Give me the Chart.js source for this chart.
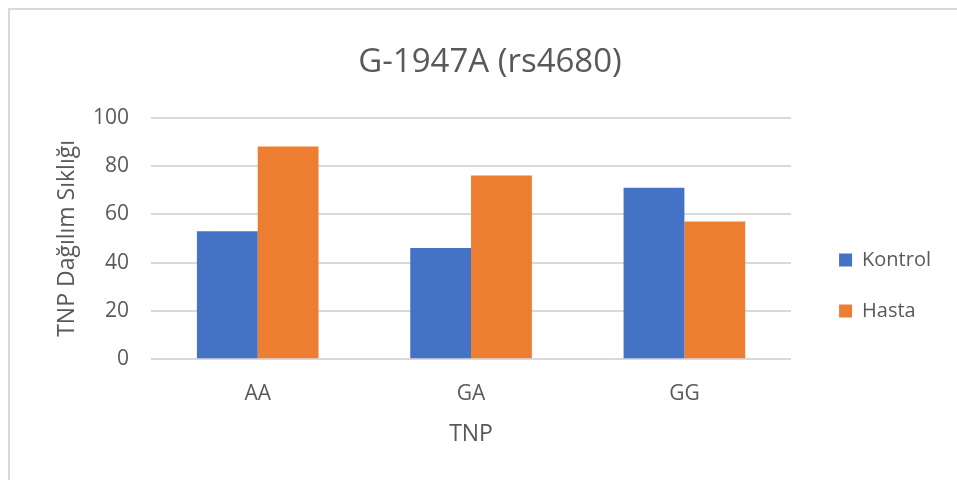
<!DOCTYPE html>
<html>
<head>
<meta charset="utf-8">
<script src="https://cdn.jsdelivr.net/npm/chart.js@4"></script>
<style>
	body { margin: 0; background: #ffffff; overflow: hidden; }
	#frame {
		position: absolute;
		left: 8px;
		top: 8px;
		width: 1000px;
		height: 600px;
		border-left: 2px solid #d9d9d9;
		border-top: 2px solid #d9d9d9;
	}
	#wrap { position: absolute; left: 0; top: 0; width: 957px; height: 480px; }
</style>
</head>
<body>
<div id="frame"></div>
<div id="wrap"><canvas id="myChart-tnp"></canvas></div>
<script>
const categories = ["AA", "GA", "GG"];
const kontrolValues = [53, 46, 71];
const hastaValues = [88, 76, 57];
const yTicks = [0, 20, 40, 60, 80, 100];

document.addEventListener("DOMContentLoaded", () => {
	let chartTnp = document.getElementById("myChart-tnp").getContext("2d");
	let fontFamily = "'Open Sans', 'Liberation Sans', sans-serif";

	// nudge the legend away from the plot, like excel does
	let legendShift = {
		id: "legendShift",
		afterLayout: (chart) => {
			chart.legend.left += 17;
			chart.legend.right += 17;
			chart.legend.top += 40;
			chart.legend.bottom += 40;
		},
	};

	let TnpChart = new Chart(chartTnp, {
		type: "bar",
		data: {
			labels: categories,
			datasets: [
				{
					label: "Kontrol",
					data: kontrolValues,
					backgroundColor: "#4472c4",
					categoryPercentage: 0.57,
					barPercentage: 1,
				},
				{
					label: "Hasta",
					data: hastaValues,
					backgroundColor: "#ed7d31",
					categoryPercentage: 0.57,
					barPercentage: 1,
				},
			],
		},
		options: {
			responsive: true,
			maintainAspectRatio: false,
			animation: false,
			layout: {
				padding: { left: 56, right: 33, top: 43, bottom: 32 },
			},
			plugins: {
				title: {
					display: true,
					text: "G-1947A (rs4680)",
					color: "#595959",
					font: { family: fontFamily, size: 33, weight: "normal" },
					padding: { top: 0, bottom: 35 },
				},
				legend: {
					position: "right",
					labels: {
						color: "#595959",
						font: { family: fontFamily, size: 20 },
						boxWidth: 13,
						boxHeight: 13,
						padding: 31,
					},
				},
				tooltip: { enabled: false },
			},
			scales: {
				x: {
					grid: { display: false },
					border: { display: false },
					ticks: {
						color: "#595959",
						font: { family: fontFamily, size: 21 },
						padding: 14,
					},
					title: {
						display: true,
						text: "TNP",
						color: "#595959",
						font: { family: fontFamily, size: 23 },
						padding: { top: 0, bottom: 0 },
					},
				},
				y: {
					min: 0,
					max: 100,
					afterBuildTicks: (axis) => {
						axis.ticks = yTicks.map((v) => ({ value: v }));
					},
					grid: { color: "#d9d9d9", lineWidth: 2, drawTicks: false },
					border: { display: false },
					ticks: {
						color: "#595959",
						font: { family: fontFamily, size: 21 },
						padding: 22,
					},
					title: {
						display: true,
						text: "TNP Dağılım Sıklığı",
						color: "#595959",
						font: { family: fontFamily, size: 23, lineHeight: 1 },
						padding: { top: 0, bottom: -8 },
					},
				},
			},
		},
		plugins: [legendShift],
	});
});
</script>
</body>
</html>
